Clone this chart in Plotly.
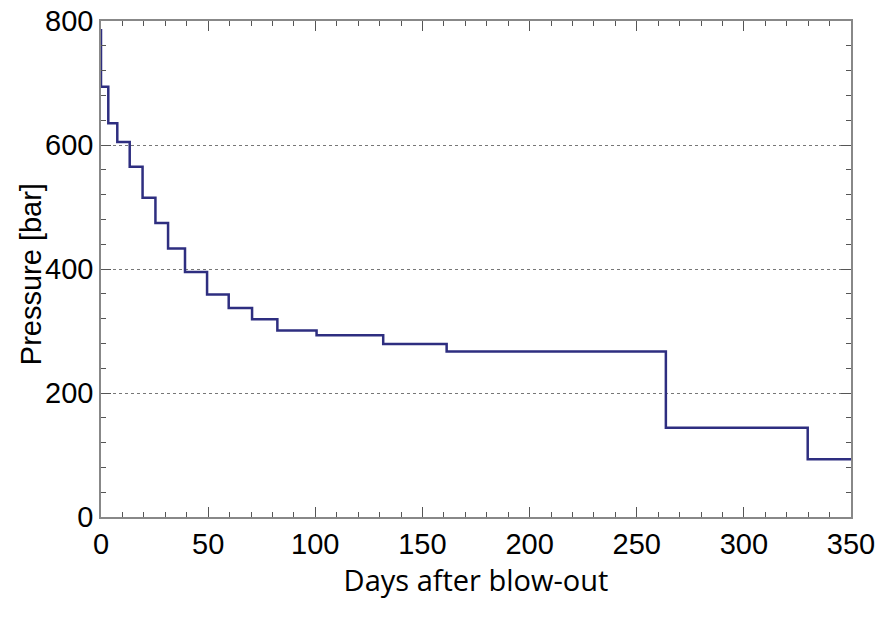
import plotly.graph_objects as go

# ========== DATA ==========
# step change points: days after blow-out and pressure held from that day
days = [0, 0, 3.4, 7.6, 13.4, 19.4, 25.4, 31.3, 39.2, 49.5, 59.6, 70.5, 82.3,
        100.6, 131.7, 161.3, 263.6, 329.8, 350]
pressure = [787, 694, 635, 605, 565, 515, 474, 433, 395, 359, 337, 319, 301,
            293, 279, 267, 144, 93, 93]

x_ticks = [0, 50, 100, 150, 200, 250, 300, 350]
y_ticks = [0, 200, 400, 600, 800]

# ========== PLOT ==========
fig = go.Figure()
fig.add_trace(go.Scatter(
    x=days, y=pressure, mode='lines', line_shape='hv',
    line=dict(color='#2e2e80', width=2.5), showlegend=False))

tick_font = dict(family='Liberation Sans, Arial', size=29, color='black')

fig.update_xaxes(
    range=[0, 350], tickvals=x_ticks, ticks='inside', ticklen=10, tickwidth=1, tickcolor='#555',
    minor=dict(ticks='inside', ticklen=5, dtick=10, tick0=0, tickcolor='#555', showgrid=False),
    showline=True, linecolor='#888', linewidth=1.5, mirror='allticks', showgrid=False,
    zeroline=False, tickfont=tick_font, automargin=False, ticklabeloverflow='allow',
    title=dict(text='Days after blow-out', font=dict(family='Open Sans, Noto Sans', size=29, color='black'), standoff=4))

fig.update_yaxes(
    range=[0, 800], tickvals=y_ticks, ticks='inside', ticklen=10, tickwidth=1, tickcolor='#555',
    minor=dict(ticks='inside', ticklen=5, dtick=40, tick0=0, tickcolor='#555', showgrid=False),
    showline=True, linecolor='#888', linewidth=1.5, mirror='allticks',
    showgrid=True, gridcolor='#777', griddash='dot', gridwidth=1,
    zeroline=False, tickfont=tick_font, automargin=False, ticklabeloverflow='allow')

# y title placed by hand so it sits as close to the tick labels as in the original
fig.add_annotation(
    text='Pressure [bar]', textangle=-90, showarrow=False,
    xref='paper', yref='paper', x=-0.093, y=0.49, xanchor='center', yanchor='middle',
    font=dict(family='Liberation Sans, Arial', size=29, color='black'))

fig.update_layout(
    width=888, height=622,
    margin=dict(l=101, r=37, t=21, b=105),
    plot_bgcolor='white', paper_bgcolor='white')

# drop the default 8px body margin so the figure fills the window
fig.write_html('out.html', config={'displayModeBar': False},
               post_script="document.body.style.margin='0';")
